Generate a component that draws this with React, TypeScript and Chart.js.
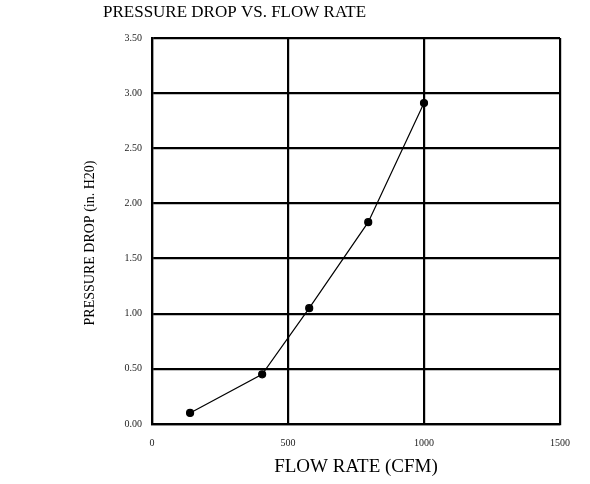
import React, { useEffect, useRef } from "react";
import { Chart, registerables } from "chart.js";

Chart.register(...registerables);

const flowRate = [140, 405, 578, 795, 1000];
const pressureDrop = [0.1, 0.45, 1.05, 1.83, 2.91];
const titleText = "PRESSURE DROP VS. FLOW RATE";
const xTitle = "FLOW RATE (CFM)";
const yTitle = "PRESSURE DROP (in. H20)";

const FONT = "'Liberation Serif', 'Times New Roman', serif";

export default function App() {
  const ref = useRef<HTMLCanvasElement | null>(null);
  useEffect(() => {
    document.body.style.margin = "0";
    const ctx = ref.current!.getContext("2d")!;
    const chart = new Chart(ctx, {
      type: "scatter",
      data: {
        datasets: [
          {
            data: flowRate.map((x, i) => ({ x, y: pressureDrop[i] })),
            showLine: true,
            borderColor: "#000",
            backgroundColor: "#000",
            borderWidth: 1.2,
            pointRadius: 3.5,
            pointStyle: "circle",
          },
        ],
      },
      options: {
        animation: false,
        responsive: false,
        maintainAspectRatio: false,
        layout: { padding: { left: 84, right: 30, top: 38, bottom: 6 } },
        plugins: {
          legend: { display: false },
          tooltip: { enabled: false },
          title: { display: false },
        },
        scales: {
          x: {
            type: "linear",
            min: 0,
            max: 1500,
            ticks: {
              stepSize: 500,
              color: "#222",
              font: { family: FONT, size: 10 },
              padding: 13,
              maxRotation: 0,
              callback: (v: any) => String(v),
            },
            grid: { color: "#000", lineWidth: 2.2, drawTicks: false },
            border: { color: "#000", width: 2.2 },
            title: {
              display: true,
              text: xTitle,
              color: "#000",
              font: { family: FONT, size: 19, weight: "normal" },
              padding: { top: 5, bottom: 0 },
            },
            afterFit: (s: any) => {
              s.height = 54;
            },
          },
          y: {
            type: "linear",
            min: 0,
            max: 3.5,
            ticks: {
              stepSize: 0.5,
              color: "#222",
              font: { family: FONT, size: 10 },
              padding: 10,
              callback: (v: any) => Number(v).toFixed(2),
            },
            grid: { color: "#000", lineWidth: 2.2, drawTicks: false },
            border: { color: "#000", width: 2.2 },
            title: { display: false },
            afterFit: (s: any) => {
              s.width = 68;
            },
          },
        },
      },
      plugins: [
        {
          id: "titles",
          afterDraw(c: any) {
            const g = c.ctx;
            const area = c.chartArea;
            g.save();
            g.fillStyle = "#000";
            g.font = `normal 17px ${FONT}`;
            g.textAlign = "left";
            g.textBaseline = "middle";
            g.fillText(titleText, area.left - 49, 13);
            g.translate(area.left - 62, (area.top + area.bottom) / 2 + 12);
            g.rotate(-Math.PI / 2);
            g.font = `normal 14px ${FONT}`;
            g.textAlign = "center";
            g.fillText(yTitle, 0, 0);
            g.restore();
          },
        },
      ],
    });
    return () => chart.destroy();
  }, []);
  return (
    <div style={{ width: 590, height: 484 }}>
      <canvas ref={ref} width={590} height={484} style={{ display: "block" }} />
    </div>
  );
}
